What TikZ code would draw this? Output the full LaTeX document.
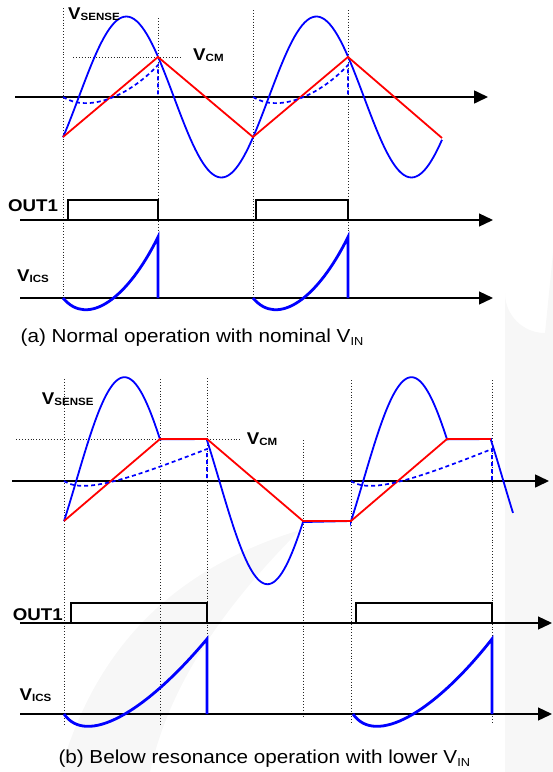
\documentclass[tikz,border=0pt]{standalone}
\usepackage{fontspec}
\setmainfont{Liberation Sans}[FakeStretch=1.1]
\usetikzlibrary{arrows.meta}
\definecolor{wavered}{HTML}{FF0000}
\definecolor{waveblue}{HTML}{0000FF}
\definecolor{wmgray}{HTML}{F7F7F7}
\newcommand{\vsig}[1]{\fontsize{17}{17}\selectfont\bfseries V\raisebox{-1.5pt}{\fontsize{10.5}{10.5}\selectfont #1}}
\newcommand{\capfont}{\fontsize{18.8}{20}\selectfont}
\newcommand{\vin}{V\raisebox{-3pt}{\fontsize{11.6}{12}\selectfont IN}}

\begin{document}
\begin{tikzpicture}[x=1pt, y=-1pt,
    axis/.style={-{Triangle[length=14pt,width=13pt]}, line width=1.6pt},
    sigaxis/.style={-{Triangle[length=14pt,width=13pt]}, line width=1.3pt},
    guide/.style={dotted, line width=0.9pt, color=black!85},
    ramp/.style={line width=1.8pt, color=wavered},
    sense/.style={line width=1.8pt, color=waveblue},
    integ/.style={dash pattern=on 4pt off 3pt, line width=1.7pt, color=waveblue},
    ics/.style={line width=2.8pt, color=waveblue},
    pulse/.style={line width=1.3pt},
    lbl/.style={inner sep=0pt, anchor=base west}
]
\useasboundingbox (0,0) rectangle (553,772);

% faint background marks
\fill[wmgray] (505,772) -- (505,293) arc[start angle=180, end angle=90, radius=40] -- (553,253) -- (553,772) -- cycle;
\fill[wmgray] (60,772) .. controls (95,650) and (170,570) .. (300,530)
    .. controls (230,600) and (170,680) .. (150,772) -- cycle;

% (a) normal operation
\foreach \xx/\yy in {63/8, 158/18, 253/10, 348/10}
    \draw[guide] (\xx,\yy) -- (\xx,298);
\draw[guide] (73,57) -- (183,57);

\coordinate (a-s) at (15,97);   \coordinate (a-e) at (488,97);
\coordinate (a-os) at (20,220); \coordinate (a-oe) at (493,220);
\coordinate (a-is) at (20,298); \coordinate (a-ie) at (493,298);
\draw[axis] (a-s) -- (a-e);
\draw[sigaxis] (a-os) -- (a-oe);
\draw[sigaxis] (a-is) -- (a-ie);

\draw[sense] plot[domain=63:442, samples=150] (\x, {97-80.5*sin((\x-63)/0.528-30)});
\draw[ramp] (63,137) -- (158,57) -- (253,137) -- (348,57) -- (442,138);
\draw[integ] (63,97) .. controls (88,112.7) and (128,97) .. (158,65) -- (158,97);
\draw[integ] (253,97) .. controls (278,112.7) and (318,97) .. (348,65) -- (348,97);

\draw[pulse] (68,220) -- (68,200) -- (158,200) -- (158,220);
\draw[pulse] (256,220) -- (256,200) -- (348,200) -- (348,220);

\draw[ics] (63,298) .. controls (88,328) and (128,298) .. (158,237) -- (158,298);
\draw[ics] (253,298) .. controls (278,328) and (318,298) .. (348,237) -- (348,298);

\node[lbl] (a-sense) at (68,19) {\vsig{SENSE}};
\node[lbl] (a-cm) at (193,60) {\vsig{CM}};
\node[lbl] (a-out) at (8,211) {\fontsize{17}{17}\selectfont\bfseries OUT1};
\node[lbl] (a-ics) at (17,281) {\vsig{ICS}};
\node[lbl] (a-cap) at (20.5,342) {\capfont (a) Normal operation with nominal \vin};

% (b) below resonance
\foreach \xx/\yy/\zz in {64/379/725, 160/379/725, 207/378/716, 303/440/718, 351/380/723, 492/380/723}
    \draw[guide] (\xx,\yy) -- (\xx,\zz);
\draw[guide] (16,439) -- (240,439);

\coordinate (b-s) at (12,481);  \coordinate (b-e) at (549,481);
\coordinate (b-os) at (20,623); \coordinate (b-oe) at (552,623);
\coordinate (b-is) at (20,714); \coordinate (b-ie) at (552,714);
\draw[axis] (b-s) -- (b-e);
\draw[sigaxis] (b-os) -- (b-oe);
\draw[sigaxis] (b-is) -- (b-ie);

\draw[sense] plot[domain=64:160, samples=60] (\x, {480.7-103.5*sin((\x-64)/0.535-23)})
    -- (207,439)
    -- plot[domain=207:303, samples=60] (\x, {480.7-103.5*sin((\x-207)/0.535+157)})
    -- (351,521)
    -- plot[domain=351:447, samples=60] (\x, {480.7-103.5*sin((\x-351)/0.535-23)})
    -- (491,439)
    -- plot[domain=491:513, samples=15] (\x, {480.7-103.5*sin((\x-491)/0.535+157)});
\draw[ramp] (64,521) -- (160,439) -- (207,439) -- (303,521) -- (351,521) -- (447,439) -- (491,439);
\draw[integ] (64,481) .. controls (84,495) and (134,477) .. (207,449) -- (207,481);
\draw[integ] (351,481) .. controls (371,495) and (421,477) .. (492,449) -- (492,481);

\draw[pulse] (71,623) -- (71,603) -- (207,603) -- (207,623);
\draw[pulse] (356,623) -- (356,603) -- (492,603) -- (492,623);

\draw[ics] (64,714) .. controls (86,746) and (144,714) .. (207,639) -- (207,714);
\draw[ics] (353,714) .. controls (375,746) and (433,714) .. (492,639) -- (492,714);

\node[lbl] (b-sense) at (41.7,404) {\vsig{SENSE}};
\node[lbl] (b-cm) at (246.7,444) {\vsig{CM}};
\node[lbl] (b-out) at (12.7,620) {\fontsize{17}{17}\selectfont\bfseries OUT1};
\node[lbl] (b-ics) at (19.5,700) {\vsig{ICS}};
\node[lbl] (b-cap) at (58.3,763) {\capfont (b) Below resonance operation with lower \vin};
\end{tikzpicture}
\end{document}
